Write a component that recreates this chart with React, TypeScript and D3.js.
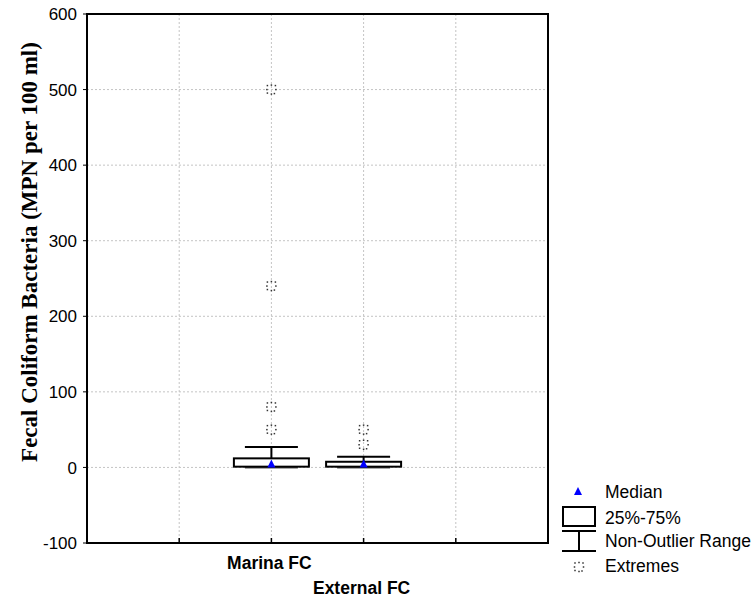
import React from "react";
import * as d3 from "d3";

const categories = ["Marina FC", "External FC"];
const categoryPos = [2, 3];
const q1 = [1, 1];
const q3 = [12, 7.5];
const medians = [4, 4];
const whiskerLow = [0, 0];
const whiskerHigh = [27, 14];
const extremes = [
  [500, 240, 80, 50],
  [50, 30],
];
const yTicks = [-100, 0, 100, 200, 300, 400, 500, 600];
const xGrid = [1, 2, 3, 4];
const legendLabels = ["Median", "25%-75%", "Non-Outlier Range", "Extremes"];

const W = 755;
const H = 598;
const left = 87;
const right = 548;
const top = 14;
const bottom = 543;

const sans = "'Liberation Sans', Arial, sans-serif";
const serif = "'Liberation Serif', 'Times New Roman', serif";

const markOffsets = [
  [-4, -4], [0, -4.5], [4, -4], [4.5, 0], [3, 4], [0, 4.5], [-4, 3.5], [-4.5, 0],
];

function ExtremeMark({ cx, cy }: { cx: number; cy: number }) {
  return (
    <g>
      {markOffsets.map((p, i) => (
        <rect key={i} x={cx + p[0] - 0.75} y={cy + p[1] - 0.75} width={1.5} height={1.5} fill="#333" />
      ))}
    </g>
  );
}

export default function App() {
  const x = d3.scaleLinear().domain([0, 5]).range([left, right]);
  const y = d3.scaleLinear().domain([-100, 600]).range([bottom, top]);
  const boxW = 75;
  const capW = 53;
  const tri = (cx: number, cy: number) =>
    `M${cx},${cy - 5}L${cx + 4},${cy + 3}L${cx - 4},${cy + 3}Z`;

  return (
    <svg width={W} height={H} style={{ position: "absolute", left: 0, top: 0 }}>
      <rect x={0} y={0} width={W} height={H} fill="#fff" />
      {yTicks
        .filter((t) => t > -100 && t < 600)
        .map((t) => (
          <line key={"gy" + t} x1={left} x2={right} y1={y(t)} y2={y(t)} stroke="#c4c4c4" strokeDasharray="2,2" />
        ))}
      {xGrid.map((g) => (
        <line key={"gx" + g} x1={x(g)} x2={x(g)} y1={top} y2={bottom} stroke="#c4c4c4" strokeDasharray="2,2" />
      ))}
      {yTicks.map((t) => (
        <g key={"ty" + t}>
          <line x1={left - 4} x2={left} y1={y(t)} y2={y(t)} stroke="#000" />
          <text x={left - 10} y={y(t)} dy="0.36em" textAnchor="end" fontFamily={sans} fontSize={17}>
            {t}
          </text>
        </g>
      ))}
      {xGrid.map((g) => (
        <line key={"tx" + g} x1={x(g)} x2={x(g)} y1={bottom} y2={bottom - 5} stroke="#000" strokeWidth={1.5} />
      ))}
      <rect x={left} y={top} width={right - left} height={bottom - top} fill="none" stroke="#000" strokeWidth={2} />

      {categories.map((c, i) => {
        const cx = x(categoryPos[i]);
        return (
          <g key={c}>
            <line x1={cx} x2={cx} y1={y(whiskerHigh[i])} y2={y(q3[i])} stroke="#000" strokeWidth={2} />
            <line x1={cx} x2={cx} y1={y(whiskerLow[i])} y2={y(q1[i])} stroke="#000" strokeWidth={2} />
            <line x1={cx - capW / 2} x2={cx + capW / 2} y1={y(whiskerHigh[i])} y2={y(whiskerHigh[i])} stroke="#000" strokeWidth={2} />
            <line x1={cx - capW / 2} x2={cx + capW / 2} y1={y(whiskerLow[i])} y2={y(whiskerLow[i])} stroke="#555" strokeWidth={2} />
            <rect x={cx - boxW / 2} y={y(q3[i])} width={boxW} height={y(q1[i]) - y(q3[i])} fill="#fff" stroke="#000" strokeWidth={2} />
            <path d={tri(cx, y(medians[i]))} fill="#0000ff" />
            {extremes[i].map((v, j) => (
              <ExtremeMark key={j} cx={cx} cy={y(v)} />
            ))}
          </g>
        );
      })}

      <text x={x(2) - 2} y={569} textAnchor="middle" fontFamily={sans} fontSize={17.5} fontWeight="bold">
        {categories[0]}
      </text>
      <text x={x(3) - 2} y={594} textAnchor="middle" fontFamily={sans} fontSize={17.5} fontWeight="bold">
        {categories[1]}
      </text>

      <text
        transform={`translate(37,252) rotate(-90)`}
        textAnchor="middle"
        fontFamily={serif}
        fontSize={23}
        fontWeight="bold"
      >
        Fecal Coliform Bacteria (MPN per 100 ml)
      </text>

      <path d={tri(578, 492)} fill="#0000ff" />
      <text x={605} y={498} fontFamily={sans} fontSize={17.5}>{legendLabels[0]}</text>
      <rect x={563} y={507} width={32} height={19} fill="#fff" stroke="#000" strokeWidth={2} />
      <text x={605} y={524} fontFamily={sans} fontSize={17.5}>{legendLabels[1]}</text>
      <line x1={562} x2={596} y1={531} y2={531} stroke="#000" strokeWidth={2} />
      <line x1={579} x2={579} y1={531} y2={551} stroke="#000" strokeWidth={2} />
      <line x1={562} x2={596} y1={551} y2={551} stroke="#000" strokeWidth={2} />
      <text x={605} y={547} fontFamily={sans} fontSize={17.5}>{legendLabels[2]}</text>
      <ExtremeMark cx={579} cy={567} />
      <text x={605} y={572} fontFamily={sans} fontSize={17.5}>{legendLabels[3]}</text>
    </svg>
  );
}
